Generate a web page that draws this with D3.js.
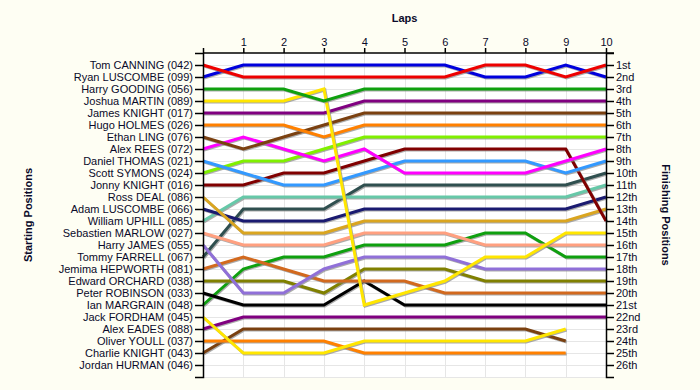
<!DOCTYPE html>
<html>
<head>
<meta charset="utf-8">
<script src="https://cdn.jsdelivr.net/npm/d3@7"></script>
<style>
  body { margin: 0; background: #fefef3; }
  svg { display: block; }
</style>
</head>
<body>
<svg width="700" height="390"></svg>
<script>
// starting grid order
var drivers = ['Tom CANNING (042)','Ryan LUSCOMBE (099)','Harry GOODING (056)','Joshua MARTIN (089)',
  'James KNIGHT (017)','Hugo HOLMES (026)','Ethan LING (076)','Alex REES (072)','Daniel THOMAS (021)',
  'Scott SYMONS (024)','Jonny KNIGHT (016)','Ross DEAL (086)','Adam LUSCOMBE (066)','William UPHILL (085)',
  'Sebastien MARLOW (027)','Harry JAMES (055)','Tommy FARRELL (067)','Jemima HEPWORTH (081)',
  'Edward ORCHARD (038)','Peter ROBINSON (033)','Ian MARGRAIN (048)','Jack FORDHAM (045)',
  'Alex EADES (088)','Oliver YOULL (037)','Charlie KNIGHT (043)','Jordan HURMAN (046)'];

var laps = [0,1,2,3,4,5,6,7,8,9,10];

// position of each driver at lap 0..10 (null = not running)
var positions = [
  [1,2,2,2,2,2,2,1,1,2,1],
  [2,1,1,1,1,1,1,2,2,1,2],
  [3,3,3,4,3,3,3,3,3,3,3],
  [4,4,4,3,21,20,19,17,17,15,15],
  [5,5,5,5,4,4,4,4,4,4,4],
  [6,6,6,7,6,6,6,6,6,6,6],
  [7,8,7,6,5,5,5,5,5,5,5],
  [8,7,8,9,8,10,10,10,10,9,8],
  [9,10,11,11,10,9,9,9,9,10,9],
  [10,9,9,8,7,7,7,7,7,7,7],
  [11,11,10,10,9,8,8,8,8,8,14],
  [12,15,15,15,14,14,14,14,14,14,13],
  [13,14,14,14,13,13,13,13,13,13,12],
  [14,12,12,12,12,12,12,12,12,12,11],
  [15,16,16,16,15,15,15,16,16,16,16],
  [16,20,20,18,17,17,17,18,18,18,18],
  [17,13,13,13,11,11,11,11,11,11,10],
  [18,17,18,19,19,19,20,20,20,20,20],
  [19,19,19,20,18,18,18,19,19,19,19],
  [20,21,21,21,19,21,21,21,21,21,21],
  [21,18,17,17,16,16,16,15,15,17,17],
  [22,25,25,25,24,24,24,24,24,23,null],
  [23,22,22,22,22,22,22,22,22,22,22],
  [24,24,24,24,25,25,25,25,25,25,null],
  [25,23,23,23,23,23,23,23,23,24,null],
  []
];

var colors = ['#ee0000','#0000dd','#0fa00f','#ffe600','#800080','#ff8000','#7a4010','#ff00ff','#3399ff',
  '#80f000','#800000','#daa520','#1a1a70','#66c8a8','#ffa080','#9070d8','#2f4f4f','#d2691e','#808000',
  '#000000','#0fa00f','#ffe600','#800080','#ff8000','#7a4010','#ff00ff'];

function ordinal(n){
  var s = ['th','st','nd','rd'], v = n % 100;
  return n + (s[(v-20)%10] || s[v] || s[0]);
}

var svg = d3.select('svg');
var font = 'Liberation Sans, Arial, sans-serif';
var ink = '#0a0a2a';

var x = d3.scaleLinear().domain([0,10]).range([203,606]);
var y = d3.scaleLinear().domain([0,27]).range([53,377]);

// plot area
svg.append('rect').attr('x',x(0)).attr('y',y(0)).attr('width',x(10)-x(0)).attr('height',y(27)-y(0)).attr('fill','white');

var grid = svg.append('g').attr('stroke','#e6e6e6').attr('stroke-width',1);
grid.selectAll('.h').data(d3.range(1,28)).enter().append('line')
  .attr('x1',x(0)).attr('x2',x(10)).attr('y1',d=>y(d)+0.5).attr('y2',d=>y(d)+0.5);
grid.selectAll('.v').data(laps.slice(1,10)).enter().append('line')
  .attr('x1',d=>Math.round(x(d))+0.5).attr('x2',d=>Math.round(x(d))+0.5).attr('y1',y(0)).attr('y2',y(27));

// lines
var line = d3.line().defined(d=>d!=null).x((d,i)=>x(laps[i])).y(d=>y(d));
var idx = d3.range(drivers.length).reverse();
var lg = svg.append('g').attr('fill','none').attr('stroke-linejoin','miter');
idx.forEach(function(i){
  if(!positions[i].length) return;
  lg.append('path').attr('d',line(positions[i])).attr('stroke','#888').attr('stroke-opacity',0.7)
    .attr('stroke-width',3).attr('transform','translate(1,1)');
  lg.append('path').attr('d',line(positions[i])).attr('stroke',colors[i]).attr('stroke-width',3);
});

// axes
var topAxis = svg.append('g').attr('transform','translate(0,'+y(0)+')')
  .call(d3.axisTop(x).tickValues(laps).tickFormat(d=>d===0?'':d).tickSize(5).tickSizeOuter(0).tickPadding(2));
topAxis.select('.domain').attr('d','M'+x(0)+',0H614');

var leftAxis = svg.append('g').attr('transform','translate('+x(0)+',0)')
  .call(d3.axisLeft(y).tickValues(d3.range(1,27)).tickFormat(d=>drivers[d-1]).tickSize(8).tickSizeOuter(8).tickPadding(2));

var rightAxis = svg.append('g').attr('transform','translate('+x(10)+',0)')
  .call(d3.axisRight(y).tickValues(d3.range(1,27)).tickFormat(ordinal).tickSize(8).tickSizeOuter(8).tickPadding(2));

svg.selectAll('.tick text').attr('font-family',font).attr('font-size','11px').attr('fill',ink);
svg.selectAll('.domain, .tick line').attr('stroke','black').attr('stroke-width',1.5);

// titles
svg.append('text').attr('x',(x(0)+x(10))/2).attr('y',22).attr('text-anchor','middle')
  .attr('font-family',font).attr('font-size','11px').attr('font-weight','bold').attr('fill',ink).text('Laps');
svg.append('text').attr('transform','translate(32,'+(y(0)+y(27))/2+') rotate(-90)').attr('text-anchor','middle')
  .attr('font-family',font).attr('font-size','11px').attr('font-weight','bold').attr('fill',ink).text('Starting Positions');
svg.append('text').attr('transform','translate(662,'+(y(0)+y(27))/2+') rotate(90)').attr('text-anchor','middle')
  .attr('font-family',font).attr('font-size','11px').attr('font-weight','bold').attr('fill',ink).text('Finishing Positions');
</script>
</body>
</html>
